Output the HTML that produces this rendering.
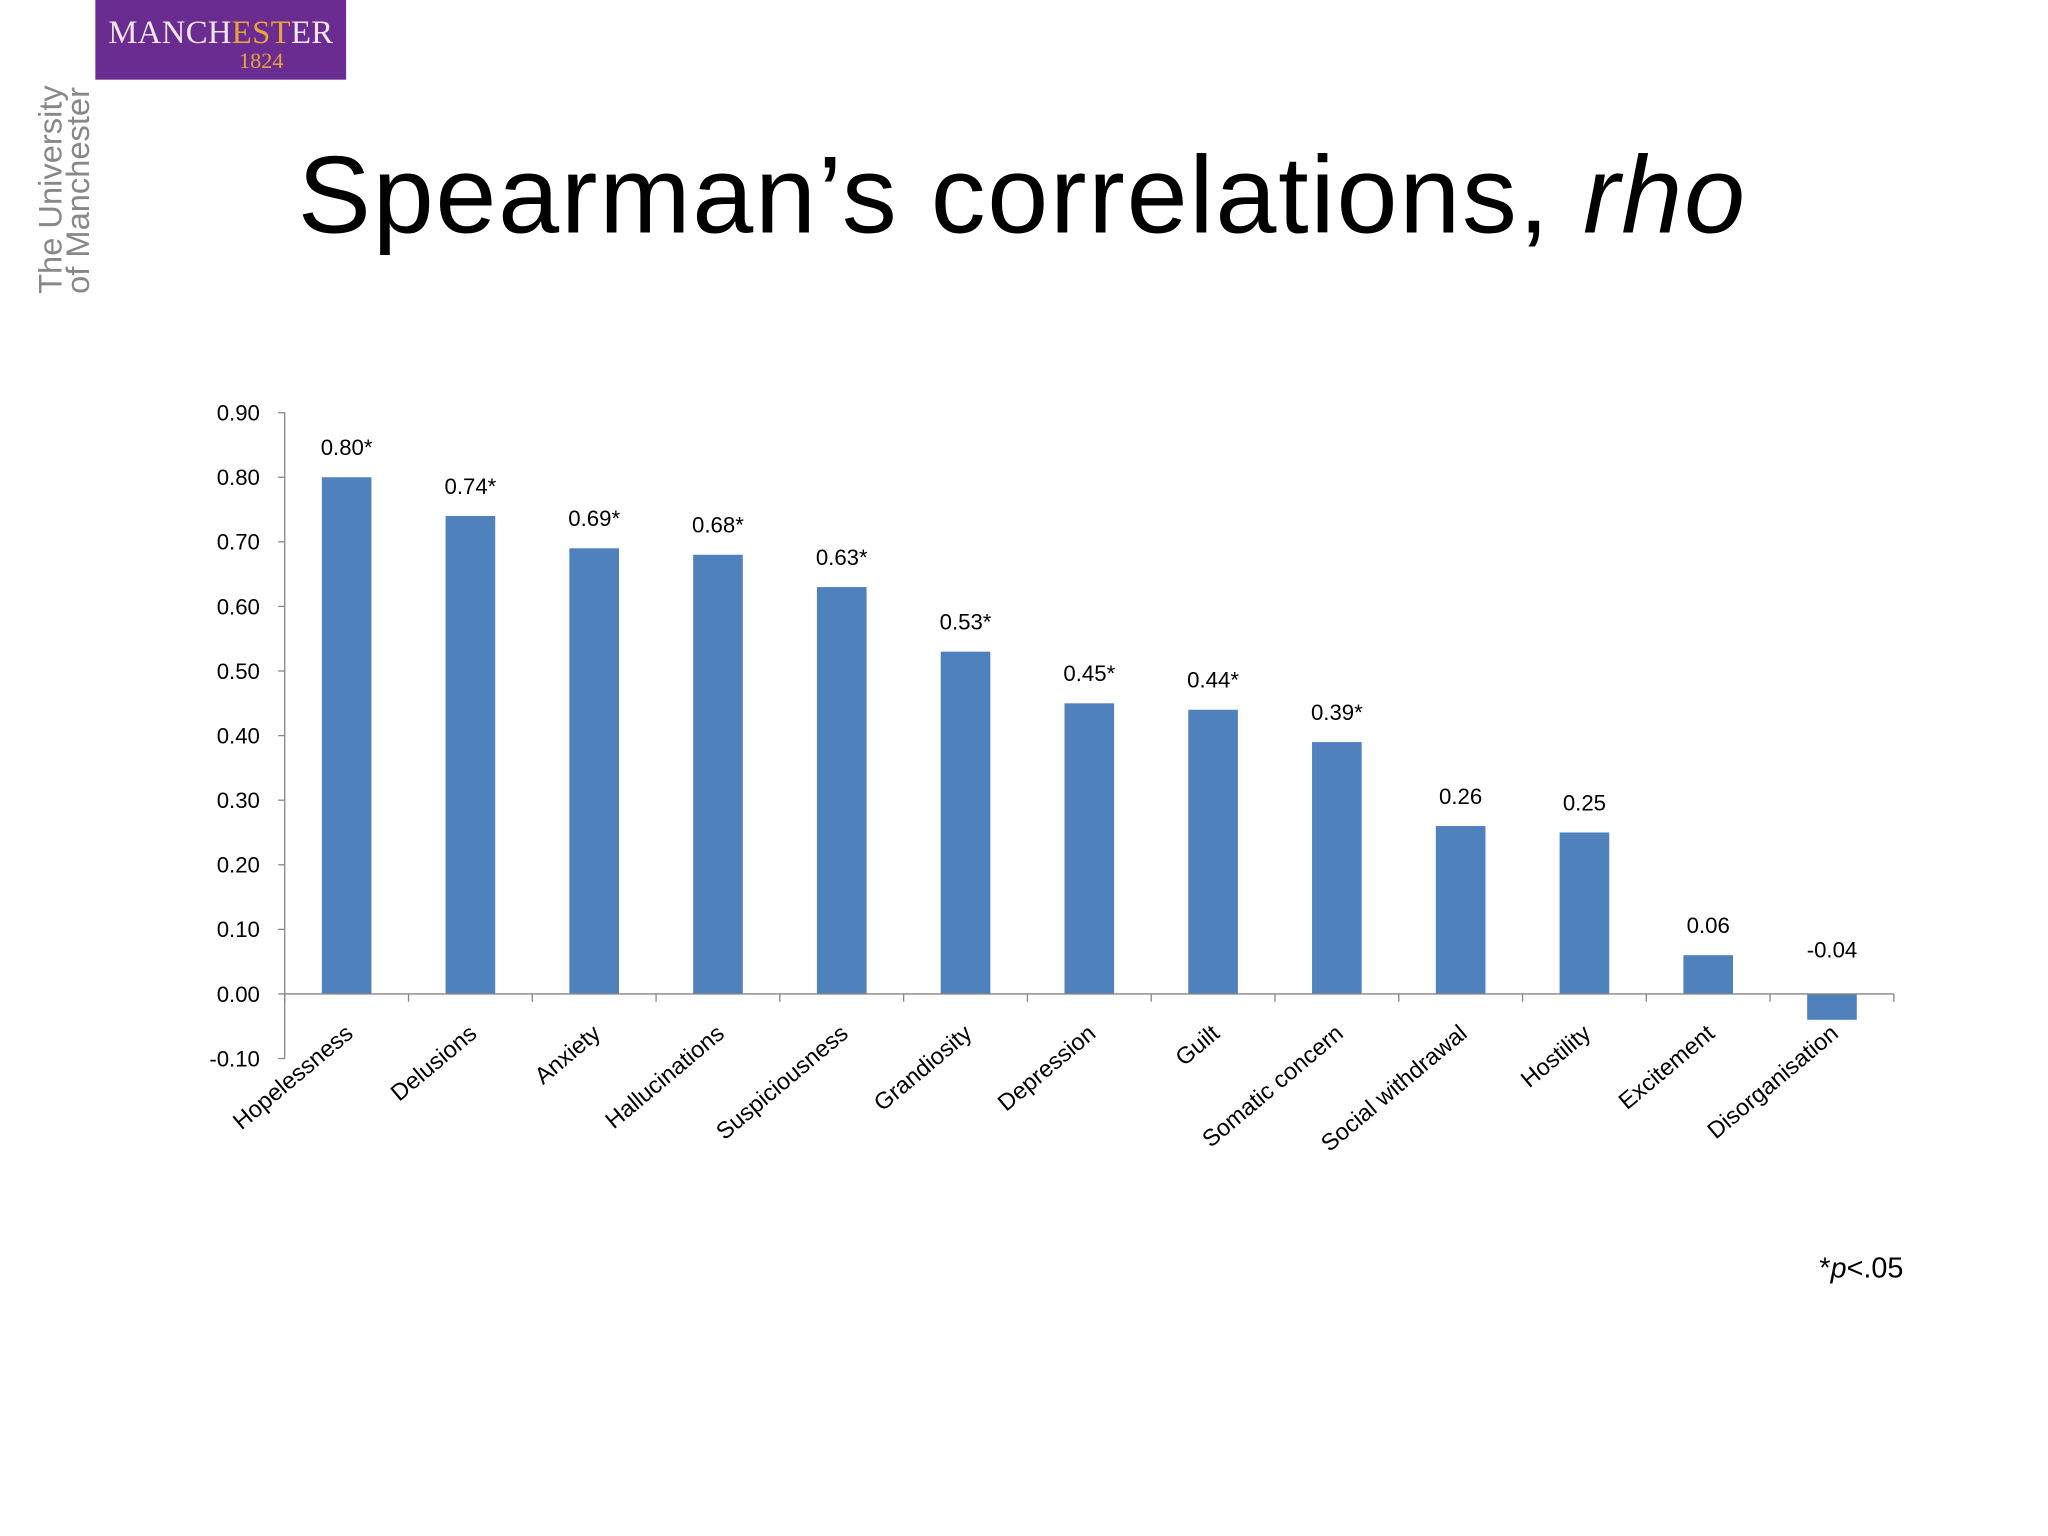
<!DOCTYPE html>
<html><head><meta charset="utf-8"><style>
html,body{margin:0;padding:0;background:#fff;}
svg{display:block;}
text{font-family:"Liberation Sans",sans-serif;}
</style></head><body>
<svg width="2048" height="1536" viewBox="0 0 1568 1176">
<rect x="0" y="0" width="1568" height="1176" fill="#fff"/>
<g>
<rect x="73" y="0" width="192" height="61" fill="#6a2c91"/>
<text x="169" y="33" text-anchor="middle" font-size="25" fill="#f2e6f5" style="font-family:'Liberation Serif',serif" textLength="172">MANCH<tspan fill="#e8a43c">EST</tspan>ER</text>
<text x="200" y="52" text-anchor="middle" font-size="17" fill="#e8a43c" style="font-family:'Liberation Serif',serif">1824</text>
</g>
<text transform="translate(47,225) rotate(-90)" font-size="25" fill="#888">The University</text>
<text transform="translate(68,225) rotate(-90)" font-size="25" fill="#888">of Manchester</text>
<text x="228" y="178" font-size="84" fill="#000" textLength="1108">Spearman’s correlations, <tspan font-style="italic">rho</tspan></text>
<g id="chart"></g>
<text x="1393" y="978" font-size="22" fill="#000">*<tspan font-style="italic">p</tspan>&lt;.05</text>
</svg>
<script>
const categories=["Hopelessness","Delusions","Anxiety","Hallucinations","Suspiciousness","Grandiosity","Depression","Guilt","Somatic concern","Social withdrawal","Hostility","Excitement","Disorganisation"];
const values=[0.80,0.74,0.69,0.68,0.63,0.53,0.45,0.44,0.39,0.26,0.25,0.06,-0.04];
const valueLabels=["0.80*","0.74*","0.69*","0.68*","0.63*","0.53*","0.45*","0.44*","0.39*","0.26","0.25","0.06","-0.04"];
const yTicks=[-0.1,0,0.1,0.2,0.3,0.4,0.5,0.6,0.7,0.8,0.9];
const NS="http://www.w3.org/2000/svg";
const g=document.getElementById('chart');
const x0=218,x1=1450,y0v=761,perUnit=494.5;
const yS=v=>y0v-v*perUnit;
const band=(x1-x0)/categories.length;
const xC=i=>x0+band*(i+0.5);
function mk(t,a){const e=document.createElementNS(NS,t);for(const k in a)e.setAttribute(k,a[k]);g.appendChild(e);return e;}
let e=mk('line',{x1:x0,x2:x0,y1:yS(0.9),y2:yS(-0.1),stroke:'#868686','stroke-width':1});


yTicks.forEach(v=>{
 let t=mk('line',{x1:x0-5,x2:x0,y1:yS(v),y2:yS(v),stroke:'#868686'});
 
 
 let l=mk('text',{x:199,y:yS(v)+6,'text-anchor':'end','font-size':17,fill:'#000'});
 l.textContent=v.toFixed(2);
 
 
});
values.forEach((v,i)=>{
 const top=Math.min(yS(v),yS(0)),h=Math.abs(yS(v)-yS(0));
 let b=mk('rect',{x:xC(i)-19,y:top,width:38,height:h,fill:'#4f81bd'});
 
 
 let vl=mk('text',{x:xC(i),y:(v>=0?yS(v)-17:yS(0)-28),'text-anchor':'middle','font-size':17,fill:'#000'});
 vl.textContent=valueLabels[i];
 
 
 let cl=mk('text',{x:0,y:0,'text-anchor':'end','font-size':18,fill:'#000',transform:`translate(${xC(i)+6},${y0v+32}) rotate(-40)`});
 cl.textContent=categories[i];
 
 
});
for(let k=0;k<=categories.length;k++){
 let t=mk('line',{x1:x0+band*k,x2:x0+band*k,y1:y0v,y2:y0v+6,stroke:'#868686'});
 
 
}
e=mk('line',{x1:x0,x2:x1,y1:y0v,y2:y0v,stroke:'#868686','stroke-width':1});


</script>
</body></html>
